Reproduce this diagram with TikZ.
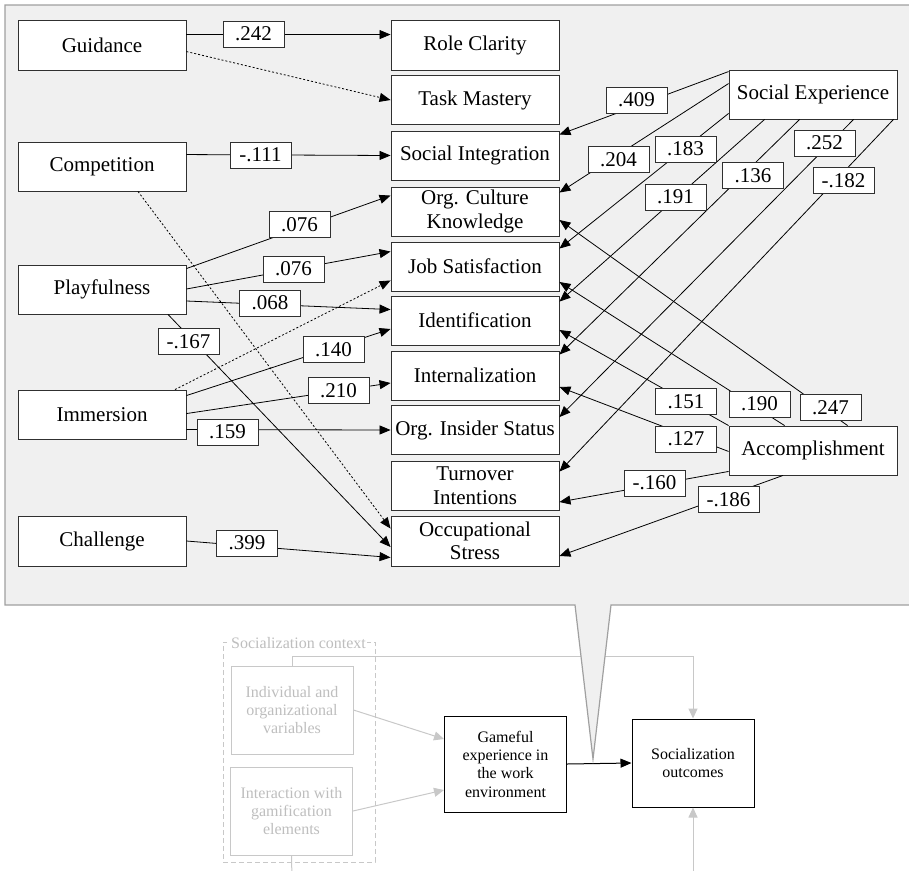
\documentclass[tikz,border=0pt]{standalone}
\usepackage{fontspec}
\setmainfont{Liberation Serif}
\usetikzlibrary{arrows.meta,calc}
\definecolor{framegray}{HTML}{A0A0A0}
\definecolor{panel}{HTML}{F0F0F0}
\definecolor{faint}{HTML}{BEBEBE}
\definecolor{faintline}{HTML}{C8C8C8}
\definecolor{boxline}{HTML}{303030}
\begin{document}
\begin{tikzpicture}[x=1pt,y=-1pt,
  every node/.style={font=\fontsize{21}{23.5}\selectfont},
  varbox/.style={draw=boxline, line width=0.9pt, fill=white, minimum width=168pt,
    minimum height=49pt, inner sep=0pt, align=center},
  coef/.style={draw=boxline, line width=0.8pt, fill=white, minimum width=61pt,
    minimum height=26pt, inner sep=0pt},
  link/.style={draw=black, line width=0.8pt, -{Triangle[length=11pt,width=9pt]}},
  dotlink/.style={link, dash pattern=on 2pt off 2pt},
  small/.style={font=\fontsize{16}{18.3}\selectfont, align=center, inner sep=0pt},
  ctxbox/.style={small, draw=faintline, line width=1pt, text=faint,
    minimum width=122pt, minimum height=88pt},
  corebox/.style={small, draw=black, line width=1pt, fill=white,
    minimum width=122pt, minimum height=88pt},
  faintarrow/.style={draw=faintline, line width=1pt, -{Triangle[length=10pt,width=9pt]}},
]
\useasboundingbox (0,0) rectangle (909,870);
\clip (0,0) rectangle (909,870);

% ---------- lower schematic ----------
\node[draw=faintline, line width=1pt, dash pattern=on 5pt off 3pt,
      minimum width=152pt, minimum height=220pt, inner sep=0pt] (ctx) at (299,752) {};
\node[small, text=faint, fill=white, inner sep=1.5pt, anchor=west] (ctxl)
      at ($(ctx.north west)+(7,2)$) {Socialization context};
\node[ctxbox] (ind) at (292,710) {Individual and\\organizational\\variables};
\node[ctxbox] (inter) at (291.5,811) {Interaction with\\gamification\\elements};
\node[corebox, minimum height=96pt] (game) at (505.5,764) {Gameful\\experience in\\the work\\environment};
\node[corebox] (outc) at (693,763) {Socialization\\outcomes};
\coordinate (lowA) at (292,880);
\coordinate (lowB) at (693,880);

\draw[faintarrow] (ind.east) -- ($(game.west)+(0,-25)$);
\draw[faintarrow] (inter.east) -- ($(game.west)+(0,26)$);
\draw[faintarrow] (ind.north) -- ++(0,-9) -| (outc.north);
\draw[draw=faintline, line width=1pt] (inter.south) -- (lowA);
\draw[faintarrow] (lowB) -- (outc.south);
\draw[link, line width=1pt] (game.east) -- (outc.west);

% ---------- panel with pointer ----------
\draw[draw=framegray, fill=panel, line width=1.2pt]
  (5,5) -- (915,5) -- (915,605) -- (611,605) -- (593,759) -- (575,605) -- (5,605) -- cycle;

% ---------- predictors ----------
\node[varbox, minimum height=50pt] (guid) at (102,45) {Guidance};
\node[varbox] (comp) at (102,166.5) {Competition};
\node[varbox] (play) at (102,289.5) {Playfulness};
\node[varbox] (imm) at (102,414.5) {Immersion};
\node[varbox, minimum height=50pt] (chal) at (102,541) {Challenge};

% ---------- outcomes ----------
\node[varbox, minimum height=50pt] (rc) at (475,45) {Role Clarity};
\node[varbox] (tm) at (475,100) {Task Mastery};
\node[varbox] (si) at (475,155.5) {Social Integration};
\node[varbox] (ock) at (475,211.5) {Org. Culture\\Knowledge};
\node[varbox] (js) at (475,266.5) {Job Satisfaction};
\node[varbox] (id) at (475,320.5) {Identification};
\node[varbox] (int) at (475,375.5) {Internalization};
\node[varbox] (ois) at (475,430) {Org. Insider Status};
\node[varbox] (ti) at (475,485.5) {Turnover\\Intentions};
\node[varbox, minimum height=50pt] (os) at (475,541) {Occupational\\Stress};

% ---------- right-hand predictors ----------
\node[varbox] (se) at (813,94.5) {Social Experience};
\node[varbox] (acc) at (813,450.5) {Accomplishment};

% ---------- paths from left ----------
\draw[link] ($(guid.north east)+(0,15)$) -- ($(rc.north west)+(0,15)$);
\draw[dotlink] ($(guid.north east)+(0,32)$) -- (tm.west);
\draw[link] ($(comp.north east)+(0,13)$) -- (si.west);
\draw[dotlink] ($(comp.south)+(36,0)$) -- ($(os.north west)+(0,13)$);
\draw[link] ($(play.north east)+(0,4)$) -- ($(ock.north west)+(0,9)$);
\draw[link] ($(play.east)+(0,-0.5)$) -- ($(js.north west)+(0,10)$);
\draw[link] ($(play.east)+(0,11.5)$) -- ($(id.north west)+(0,14)$);
\draw[link] ($(play.south)+(66,0)$) -- ($(os.west)+(0,6)$);
\draw[dotlink] ($(imm.north)+(73,0)$) -- ($(js.south west)+(0,-11)$);
\draw[link] ($(imm.north east)+(0,6)$) -- ($(id.west)+(0,8.5)$);
\draw[link] ($(imm.north east)+(0,24)$) -- ($(int.west)+(0,7.5)$);
\draw[link] ($(imm.north east)+(0,40)$) -- (ois.west);
\draw[link] (chal.east) -- ($(os.south west)+(0,-9)$);

% ---------- paths from Social Experience ----------
\draw[link] ($(se.north west)+(0,2)$) -- ($(si.north east)+(0,4)$);
\draw[link] ($(se.north west)+(0,14)$) -- ($(ock.north east)+(0,6)$);
\draw[link] ($(se.south west)+(0,-6)$) -- ($(js.north east)+(0,7)$);
\draw[link] ($(se.south west)+(36,0)$) -- ($(id.north east)+(0,6)$);
\draw[link] ($(se.south west)+(71,0)$) -- ($(int.north east)+(0,4)$);
\draw[link] ($(se.south west)+(125,0)$) -- ($(ois.north east)+(0,12)$);
\draw[link] ($(se.south east)+(-4,0)$) -- ($(ti.north east)+(0,11)$);

% ---------- paths from Accomplishment ----------
\draw[link] ($(acc.north west)+(119,0)$) -- ($(ock.east)+(0,8.5)$);
\draw[link] ($(acc.north west)+(56,0)$) -- ($(js.east)+(0,15.5)$);
\draw[link] (acc.north west) -- ($(id.east)+(0,9.5)$);
\draw[link] ($(acc.south west)+(0,-24)$) -- ($(int.east)+(0,11.5)$);
\draw[link] ($(acc.south west)+(0,-4)$) -- ($(ti.east)+(0,16.5)$);
\draw[link] ($(acc.south)+(-30,0)$) -- ($(os.east)+(0,15)$);

% ---------- coefficients ----------
\node[coef] (c1) at (253.5,34) {.242};
\node[coef] (c2) at (260.5,155) {-.111};
\node[coef] (c3) at (299.5,224.5) {.076};
\node[coef] (c4) at (293.5,269) {.076};
\node[coef] (c5) at (270,303) {.068};
\node[coef] (c6) at (188.5,341.5) {-.167};
\node[coef] (c7) at (333.5,349.5) {.140};
\node[coef] (c8) at (338.5,390.5) {.210};
\node[coef] (c9) at (227.5,432) {.159};
\node[coef] (c10) at (247,543) {.399};
\node[coef] (c11) at (636.5,100) {.409};
\node[coef] (c12) at (618.5,159.5) {.204};
\node[coef] (c13) at (685.5,149) {.183};
\node[coef] (c14) at (675.5,197) {.191};
\node[coef] (c15) at (753,175.5) {.136};
\node[coef] (c16) at (824.5,143) {.252};
\node[coef] (c17) at (843.5,180.5) {-.182};
\node[coef] (c18) at (686,401.5) {.151};
\node[coef] (c19) at (759.5,404) {.190};
\node[coef] (c20) at (830.5,407.5) {.247};
\node[coef] (c21) at (686,439) {.127};
\node[coef] (c22) at (654.5,483) {-.160};
\node[coef] (c23) at (728.5,499.5) {-.186};
\end{tikzpicture}
\end{document}
